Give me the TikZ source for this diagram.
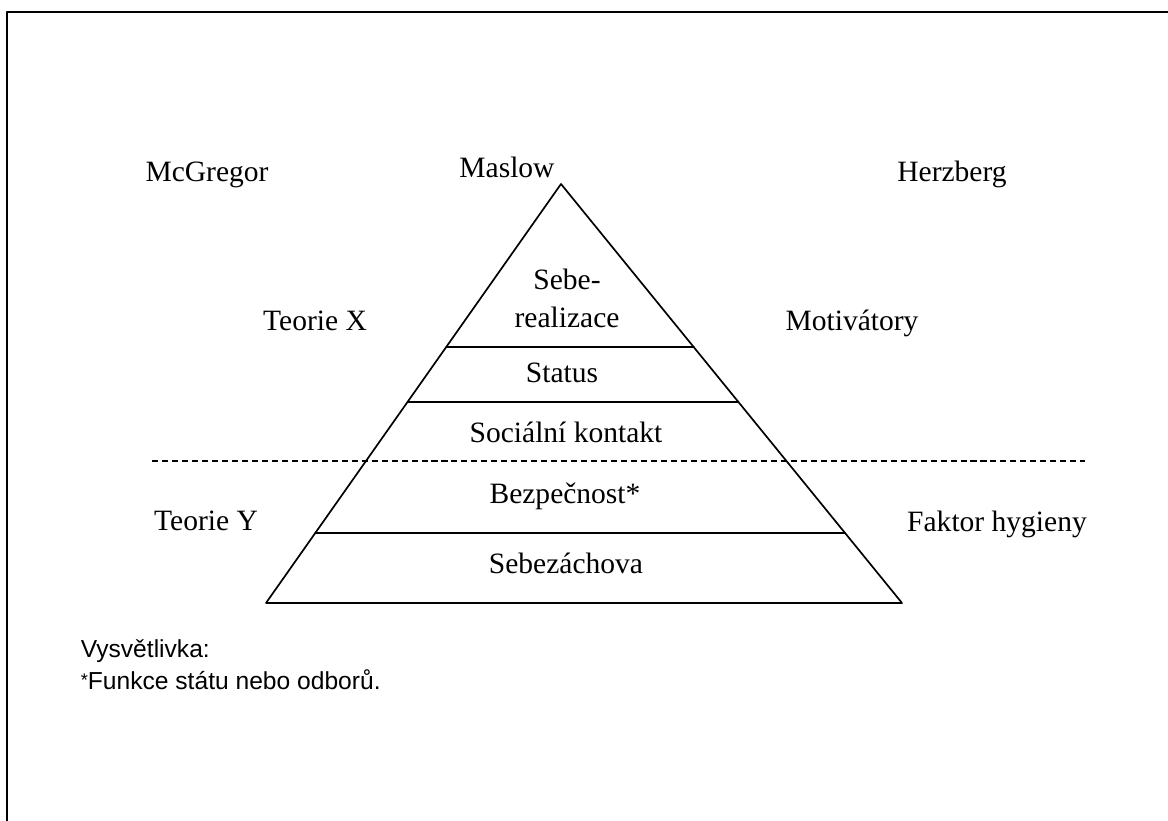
\documentclass[tikz,border=0pt]{standalone}
\usepackage{fontspec}
\setmainfont{Liberation Serif}
\newfontfamily\legendfont{Liberation Sans}
\usetikzlibrary{calc}
\tikzstyle{every node}=[font=\fontsize{21}{26}\selectfont,inner sep=0pt]
\tikzstyle{every path}=[line width=1.2pt,line cap=round,line join=round]
\tikzstyle{tag}=[anchor=base]
\tikzstyle{note}=[anchor=base west,font=\legendfont\fontsize{17.5}{21}\selectfont]

\begin{document}
\begin{tikzpicture}
  \useasboundingbox (0,0) rectangle (29.2,20.525);
  \draw[line width=2pt,line cap=butt] (0.175,0) -- (0.175,20.225) -- (29.2,20.225);
  % pyramid
  \coordinate (apex) at (14.025,15.925);
  \coordinate (bl) at (6.65,5.45);
  \coordinate (br) at (22.55,5.45);
  \draw (bl) -- (apex) -- (br) -- cycle;
  \foreach \t in {0.167,0.48,0.611}
    \draw ($(bl)!\t!(apex)$) -- ($(br)!\t!(apex)$);
  \coordinate (dashl) at (3.8,9);
  \coordinate (dashr) at (27.125,9);
  \draw[line width=0.8pt,line cap=butt,dash pattern=on 4.3pt off 2.8pt] (dashl) -- (dashr);
  % levels
  \node[align=center,font=\fontsize{21}{27}\selectfont] (sebe) at (14.175,13.075) {Sebe-\\realizace};
  \node[tag] (status) at (14.05,10.95) {Status};
  \node[tag] (social) at (14.15,9.45) {Sociální kontakt};
  \node[tag] (safety) at (14.125,7.925) {Bezpečnost*};
  \node[tag] (survive) at (14.15,6.175) {Sebezáchova};
  % authors
  \node[tag] (maslow) at (12.675,16.075) {Maslow};
  \node[tag] (mcgregor) at (5.175,15.975) {McGregor};
  \node[tag] (herzberg) at (23.8,15.975) {Herzberg};
  \node[tag] (theoryx) at (7.875,12.25) {Teorie X};
  \node[tag] (motiv) at (21.3,12.25) {Motivátory};
  \node[tag] (theoryy) at (5.15,7.25) {Teorie Y};
  \node[tag] (hygiene) at (24.925,7.225) {Faktor hygieny};
  % legend
  \node[note] (legend) at (2.0,4.075) {Vysvětlivka:};
  \node[note] (legendtext) at (2.0,3.275) {\raisebox{0.15em}{\fontsize{13}{15}\selectfont*}Funkce státu nebo odborů.};
\end{tikzpicture}
\end{document}
